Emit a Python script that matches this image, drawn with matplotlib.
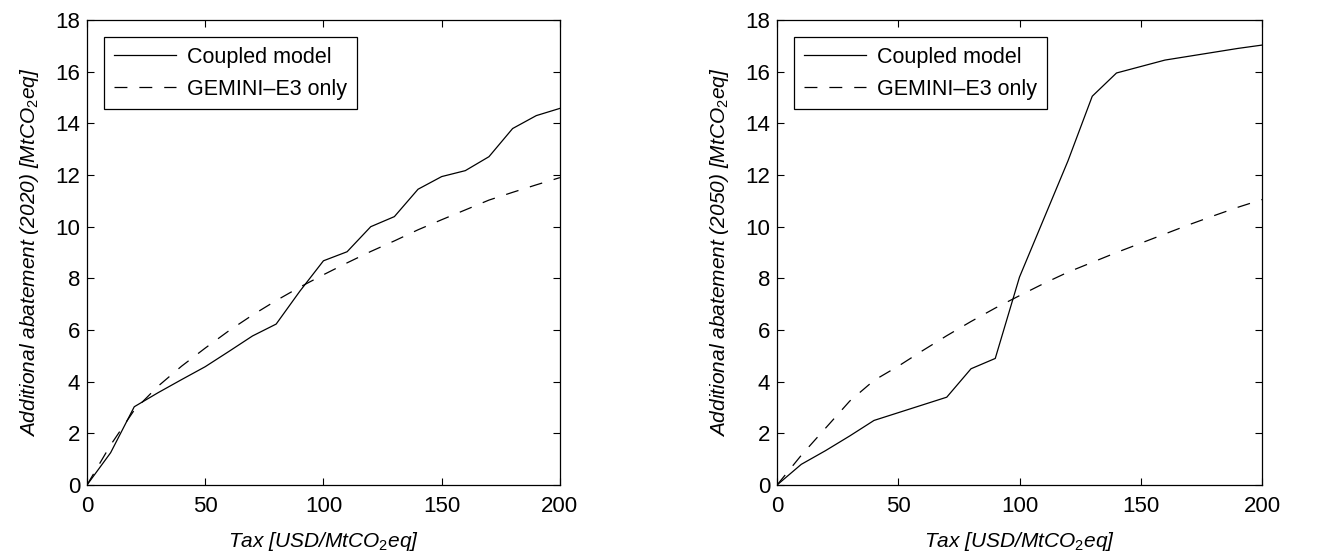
import matplotlib
matplotlib.use("Agg")
import matplotlib.pyplot as plt

plt.rcParams['font.family'] = ['Liberation Sans', 'DejaVu Sans']
plt.rcParams['mathtext.fontset'] = 'custom'
plt.rcParams['mathtext.rm'] = 'Liberation Sans'
plt.rcParams['mathtext.it'] = 'Liberation Sans:italic'
plt.rcParams['lines.scale_dashes'] = False

tax = [0, 10, 20, 30, 40, 50, 60, 70, 80, 90, 100,
       110, 120, 130, 140, 150, 160, 170, 180, 190, 200]

coupled_2020 = [0, 1.25, 3.03, 3.57, 4.08, 4.58, 5.17, 5.77, 6.23, 7.5, 8.68,
                9.03, 10.0, 10.39, 11.45, 11.94, 12.17, 12.71, 13.8, 14.3, 14.58]
gemini_2020 = [0, 1.55, 2.9, 3.82, 4.6, 5.3, 5.97, 6.58, 7.14, 7.66, 8.14,
               8.6, 9.04, 9.45, 9.88, 10.27, 10.65, 11.03, 11.33, 11.62, 11.9]

coupled_2050 = [0, 0.8, 1.33, 1.9, 2.5, 2.8, 3.1, 3.4, 4.5, 4.9, 8.05,
                10.3, 12.55, 15.05, 15.95, 16.2, 16.45, 16.6, 16.75, 16.9, 17.03]
gemini_2050 = [0, 1.15, 2.2, 3.25, 4.05, 4.6, 5.2, 5.78, 6.33, 6.85, 7.33,
               7.8, 8.24, 8.62, 9.0, 9.36, 9.72, 10.08, 10.42, 10.75, 11.05]

xticks = [0, 50, 100, 150, 200]
yticks = [0, 2, 4, 6, 8, 10, 12, 14, 16, 18]
legend_labels = ['Coupled model', 'GEMINI\u2013E3 only']
ylabels = [r'Additional abatement (2020) [MtCO$_\mathit{2}$eq]',
           r'Additional abatement (2050) [MtCO$_\mathit{2}$eq]']
xlabel = r'Tax [USD/MtCO$_\mathit{2}$eq]'

fig = plt.figure(figsize=(13.36, 5.58), dpi=100)
ax1 = fig.add_axes([0.0651, 0.1308, 0.354, 0.8333])
ax2 = fig.add_axes([0.5816, 0.1308, 0.363, 0.8333])

FS = 16
LFS = 15
for ax, c, g, yl in [(ax1, coupled_2020, gemini_2020, ylabels[0]),
                     (ax2, coupled_2050, gemini_2050, ylabels[1])]:
    ax.plot(tax, c, color='black', lw=0.9, label=legend_labels[0])
    ax.plot(tax, g, color='black', lw=0.9, dashes=(9.3, 8.6), label=legend_labels[1])
    ax.set_xlim(0, 200)
    ax.set_ylim(0, 18)
    ax.set_xticks(xticks)
    ax.set_yticks(yticks)
    ax.tick_params(direction='in', top=True, right=True, length=5, width=0.8,
                   labelsize=FS)
    ax.tick_params(axis='x', pad=8)
    ax.tick_params(axis='y', pad=5)
    for s in ax.spines.values():
        s.set_linewidth(0.9)
    ax.set_xlabel(xlabel, fontsize=LFS, style='italic', labelpad=9)
    ax.set_ylabel(yl, fontsize=LFS, style='italic', labelpad=10)
    leg = ax.legend(loc='upper left', fontsize=15.5, frameon=True, fancybox=False,
                    edgecolor='black', framealpha=1, handlelength=2.9,
                    borderaxespad=0.8, borderpad=0.45, labelspacing=0.5,
                    handletextpad=0.5)
    leg.get_frame().set_linewidth(0.9)

fig.savefig('out.png', dpi=100)
